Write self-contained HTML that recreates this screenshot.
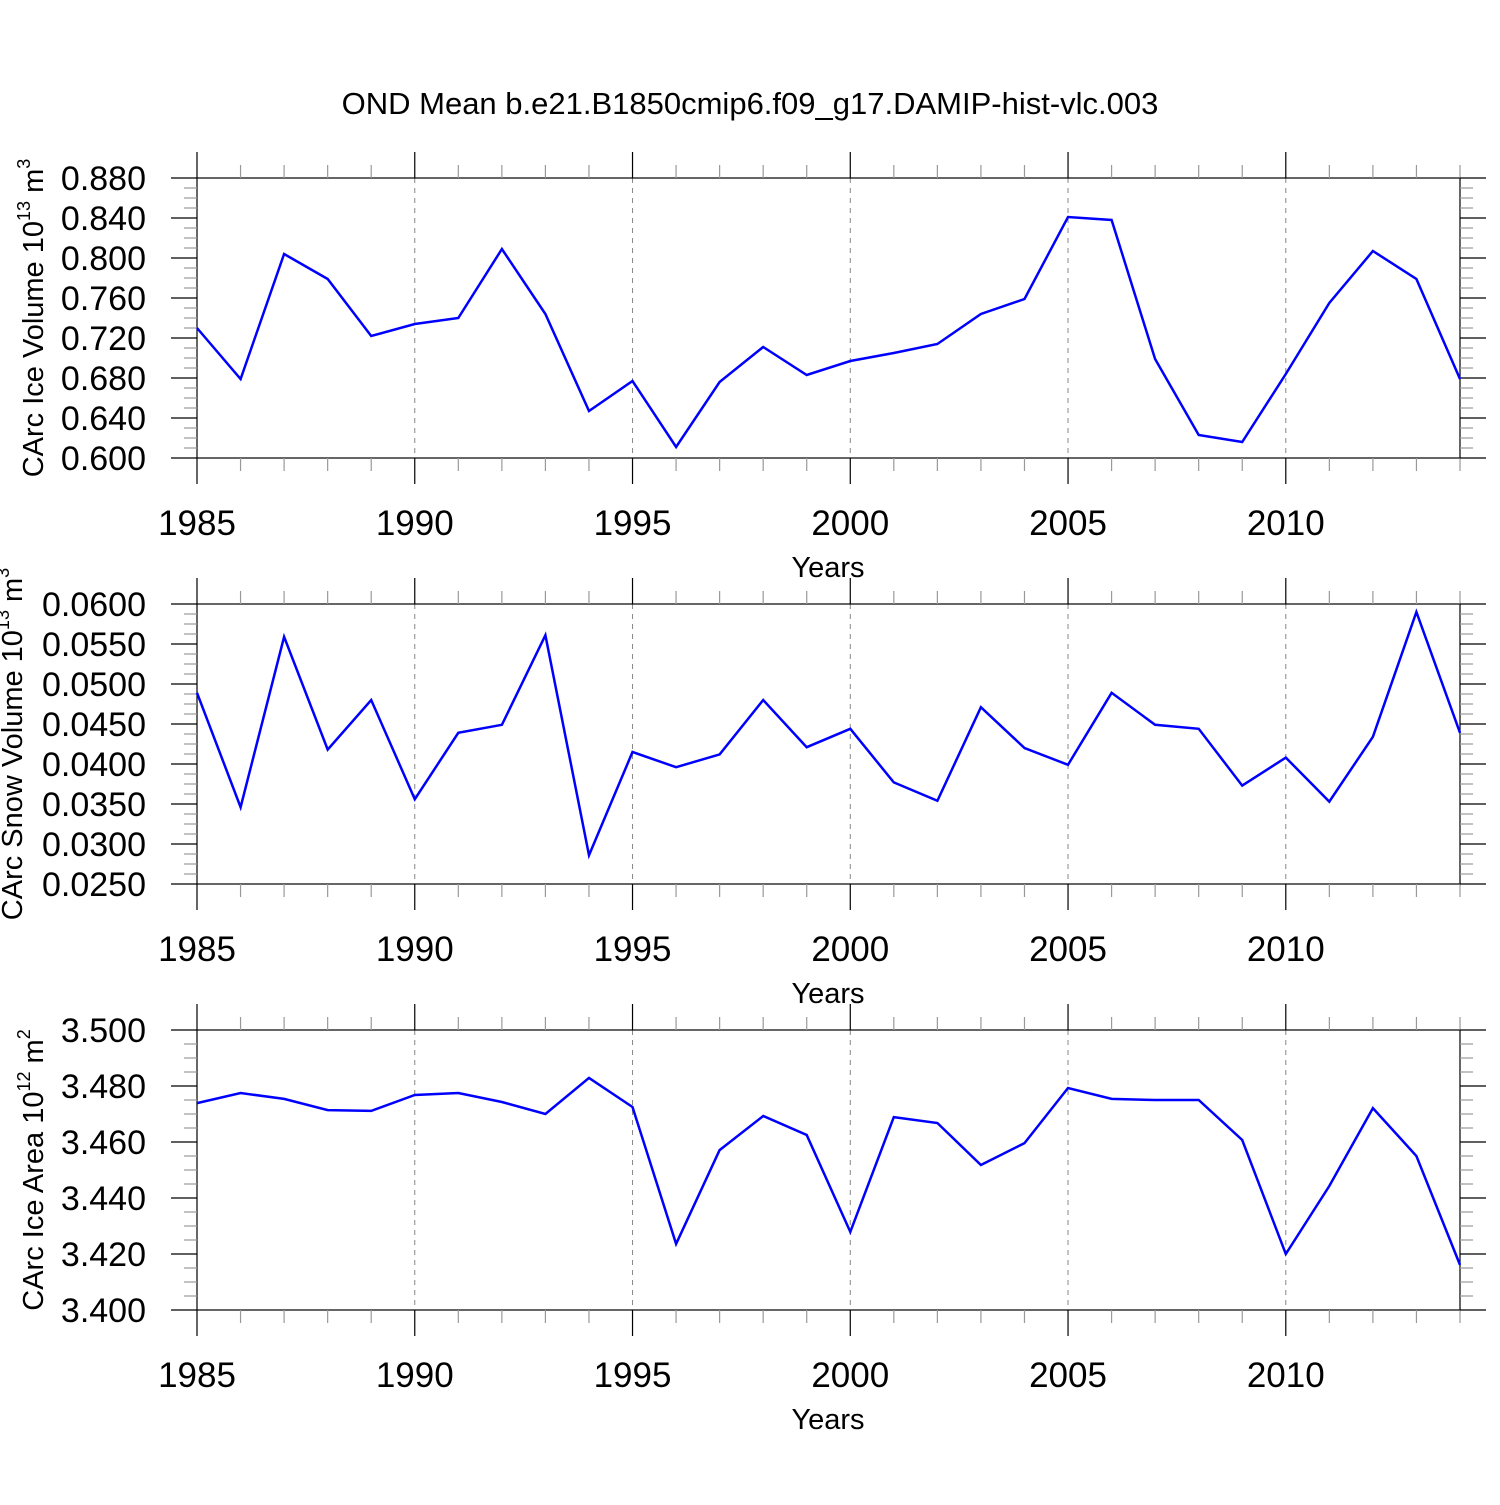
<!DOCTYPE html>
<html><head><meta charset="utf-8"><style>
body{margin:0;background:#fff;}
svg text{font-family:"Liberation Sans",Arial,sans-serif;fill:#000;}
</style></head><body>
<svg id="chart" width="1500" height="1500" viewBox="0 0 1500 1500" xmlns="http://www.w3.org/2000/svg">
<text x="750" y="114" font-size="31" text-anchor="middle">OND Mean b.e21.B1850cmip6.f09_g17.DAMIP-hist-vlc.003</text>
</svg>
<script>
const years = [1985,1986,1987,1988,1989,1990,1991,1992,1993,1994,1995,1996,1997,1998,1999,2000,2001,2002,2003,2004,2005,2006,2007,2008,2009,2010,2011,2012,2013,2014];
const xTicks = [1985,1990,1995,2000,2005,2010];
const iceVolume = [0.730,0.679,0.804,0.779,0.722,0.734,0.740,0.809,0.744,0.647,0.677,0.611,0.676,0.711,0.683,0.697,0.705,0.714,0.744,0.759,0.841,0.838,0.699,0.623,0.616,0.684,0.755,0.807,0.779,0.679];
const snowVolume = [0.0489,0.0346,0.0559,0.0418,0.0480,0.0356,0.0439,0.0449,0.0561,0.0286,0.0415,0.0396,0.0412,0.0480,0.0421,0.0444,0.0377,0.0354,0.0471,0.0420,0.0399,0.0489,0.0449,0.0444,0.0373,0.0408,0.0353,0.0434,0.0590,0.0439];
const iceArea = [3.4739,3.4775,3.4754,3.4714,3.4711,3.4768,3.4775,3.4743,3.4700,3.4829,3.4725,3.4236,3.4571,3.4693,3.4625,3.4279,3.4689,3.4668,3.4518,3.4596,3.4793,3.4754,3.4750,3.4750,3.4607,3.4200,3.4443,3.4721,3.4550,3.4161];
const volTicks = [0.600,0.640,0.680,0.720,0.760,0.800,0.840,0.880];
const snowTicks = [0.0250,0.0300,0.0350,0.0400,0.0450,0.0500,0.0550,0.0600];
const areaTicks = [3.400,3.420,3.440,3.460,3.480,3.500];

const svg = document.getElementById('chart');
const NS = 'http://www.w3.org/2000/svg';
function mk(tag, attrs, parent){const e=document.createElementNS(NS,tag);for(const k in attrs)e.setAttribute(k,attrs[k]);(parent||svg).appendChild(e);return e;}
const X0=197,X1=1460;
const xs = y => X0 + (y-1985)*(X1-X0)/(2014-1985);

function panel(name, top, vals, ticks, ymin, ymax, dec, minorStep, labelHtml, lx){
  const bot = top+280;
  const ys = v => bot - (v-ymin)*(bot-top)/(ymax-ymin);
  const g = mk('g',{});
  
  
  xTicks.slice(1).forEach(t=>{
    const l=mk('line',{x1:xs(t),x2:xs(t),y1:top,y2:bot,stroke:'#888','stroke-width':1,'stroke-dasharray':'5,5'},g);
    
    
  });
  const fr=mk('rect',{x:X0,y:top,width:X1-X0,height:280,fill:'none',stroke:'#000','stroke-width':1.2},g);
  
  
  years.forEach(yr=>{
    const major = xTicks.includes(yr);
    const L = major?26:13;
    mk('line',{x1:xs(yr),x2:xs(yr),y1:top,y2:top-L,stroke:major?'#000':'#999','stroke-width':1.2},g);
    mk('line',{x1:xs(yr),x2:xs(yr),y1:bot,y2:bot+L,stroke:major?'#000':'#999','stroke-width':1.2},g);
  });
  xTicks.forEach(t=>{
    const tx=mk('text',{x:xs(t),y:bot+77,'font-size':35,'text-anchor':'middle'},g);
    tx.textContent=t;
    
    
  });
  const xt=mk('text',{x:828,y:bot+119,'font-size':29,'text-anchor':'middle'},g);
  xt.textContent='Years';
  
  
  const n = Math.round((ymax-ymin)/minorStep);
  for(let i=0;i<=n;i++){
    const v=ymin+i*minorStep, y=ys(v);
    const major = ticks.some(t=>Math.abs(t-v)<minorStep/10);
    const L = major?26:13;
    mk('line',{x1:X0,x2:X0-L,y1:y,y2:y,stroke:major?'#000':'#999','stroke-width':1.2},g);
    mk('line',{x1:X1,x2:X1+L,y1:y,y2:y,stroke:major?'#000':'#999','stroke-width':1.2},g);
  }
  ticks.forEach(t=>{
    const tx=mk('text',{x:146,y:ys(t)+12,'font-size':34,'text-anchor':'end'},g);
    tx.textContent=t.toFixed(dec);
    
    
  });
  const yl=mk('text',{transform:`translate(${lx},${top+140}) rotate(-90)`,'font-size':29,'text-anchor':'middle'},g);
  yl.innerHTML=labelHtml;
  
  
  const pts = vals.map((v,i)=>xs(years[i]).toFixed(1)+','+ys(v).toFixed(1)).join(' ');
  const pl=mk('polyline',{points:pts,fill:'none',stroke:'#0000ff','stroke-width':2.5,'stroke-linejoin':'miter'},g);
  
  
}
panel('ice-volume',178,iceVolume,volTicks,0.600,0.880,3,0.010,'CArc Ice Volume 10<tspan dy="-13" font-size="18">13</tspan><tspan dy="13"> m</tspan><tspan dy="-13" font-size="18">3</tspan>',43);
panel('snow-volume',604,snowVolume,snowTicks,0.0250,0.0600,4,0.00125,'CArc Snow Volume 10<tspan dy="-13" font-size="18">13</tspan><tspan dy="13"> m</tspan><tspan dy="-13" font-size="18">3</tspan>',22);
panel('ice-area',1030,iceArea,areaTicks,3.400,3.500,3,0.005,'CArc Ice Area 10<tspan dy="-13" font-size="18">12</tspan><tspan dy="13"> m</tspan><tspan dy="-13" font-size="18">2</tspan>',43);
</script>
</body></html>
